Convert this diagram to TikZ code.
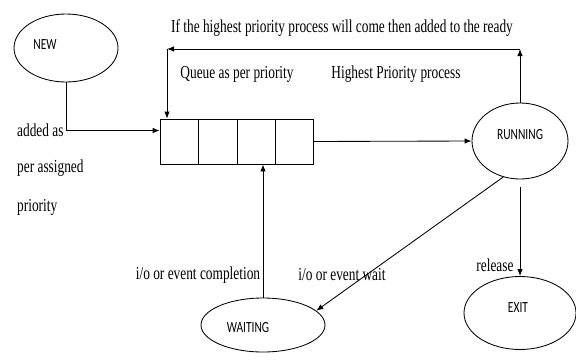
\documentclass[tikz,border=0pt]{standalone}
\usepackage{fontspec}
\setmainfont{Liberation Serif}[FakeStretch=0.73]
\newfontfamily\statefont{Carlito}[FakeStretch=0.74]
\usetikzlibrary{arrows.meta,positioning,shapes.geometric}

\begin{document}
\begin{tikzpicture}[x=1pt,y=-1pt,every node/.style={font=\fontsize{18.3}{21}\selectfont,inner sep=0pt},
  state/.style={draw,ellipse,line width=0.85pt},
  statetxt/.style={font=\statefont\fontsize{15.5}{18}\selectfont},
  arr/.style={-{Latex[length=7pt,width=5.5pt]},line width=0.85pt}]
\useasboundingbox (0,0) rectangle (576,362);
% states
\node[state,minimum width=104pt,minimum height=68pt] (new) at (66,48) {};
\node[statetxt] (newtxt) at (45,45) {NEW};
\node[state,minimum width=96pt,minimum height=76pt] (running) at (520,141) {};
\node[statetxt] (runtxt) at (520,135) {RUNNING};
\node[state,minimum width=112pt,minimum height=73pt] (exit) at (520,313) {};
\node[statetxt] (exittxt) at (518,308) {EXIT};
\node[state,minimum width=124pt,minimum height=54pt] (waiting) at (263,325) {};
\node[statetxt] (waittxt) at (248,328) {WAITING};
% ready queue
\node[draw,line width=0.85pt,minimum width=153pt,minimum height=45pt] (queue) at (236.5,141.5) {};
\foreach \x in {198,237,275}
  \draw[line width=0.85pt] (\x,119) -- (\x,164);
% connectors
\draw[arr] (new.south) |- ([yshift=11pt]queue.west);
\coordinate (lr) at (520,49);
\coordinate (ll) at (167,49);
\draw[arr] (running.north) -- (lr);
\draw[arr] (lr) -- (ll);
\draw[arr] (ll) -- (ll |- queue.north);
\draw[arr] (queue.east) -- (running.west);
\draw[arr] ([yshift=-8pt]running.south) -- (exit.north);
\draw[arr] (running.245) -- (waiting.15);
\draw[arr] (waiting.north) -- (waiting.north |- queue.south);
% labels
\node (toptxt) at (342,28) {If the highest priority process will come then added to the ready};
\node (qtxt) at (237,74) {Queue as per priority};
\node (hptxt) at (396,74) {Highest Priority process};
\node[anchor=west] (add1) at (17,130) {added as};
\node[anchor=west] (add2) at (17,168) {per assigned};
\node[anchor=west] (add3) at (17,207) {priority};
\node (comptxt) at (198,275) {i/o or event completion};
\node (waittxt2) at (342,275) {i/o or event wait};
\node (reltxt) at (495,265) {release};
\end{tikzpicture}
\end{document}
